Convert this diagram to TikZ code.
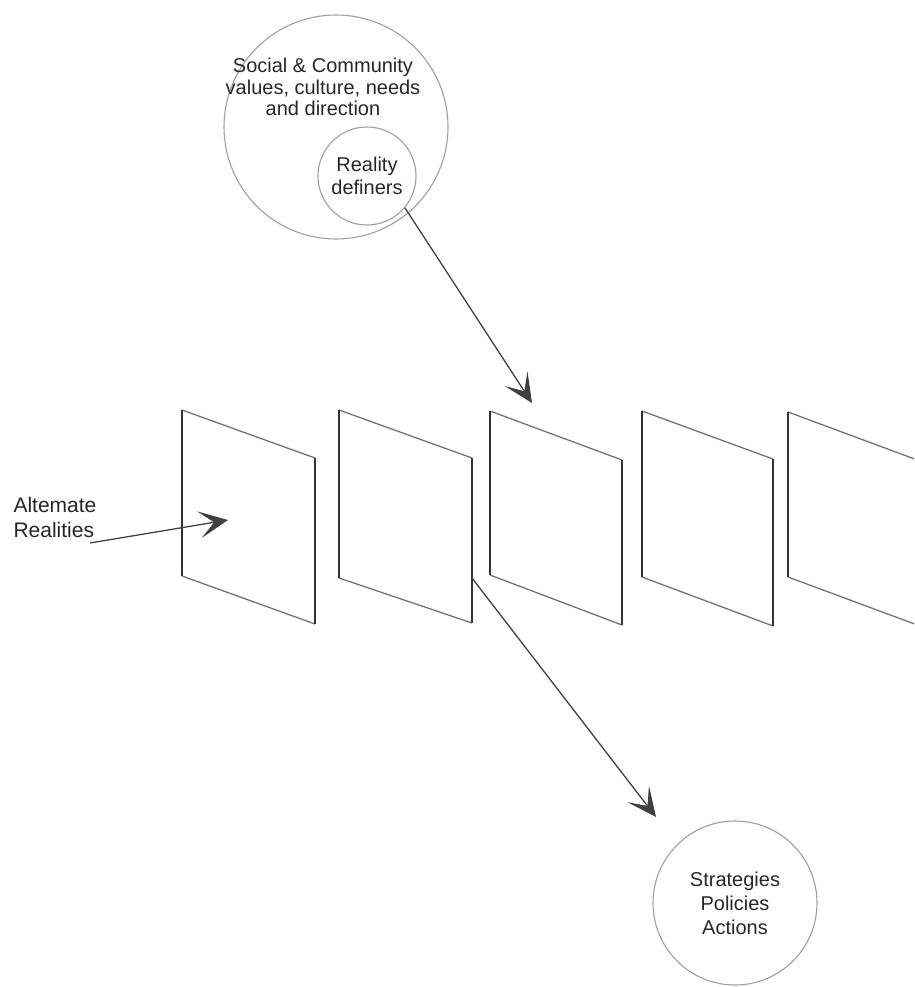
\documentclass[tikz,border=0pt]{standalone}
\usepackage{fontspec}
\setmainfont{Liberation Sans}
\usetikzlibrary{arrows.meta,calc}

\begin{document}
\begin{tikzpicture}[x=1pt,y=-1pt,
  ring/.style={circle,draw=black!38,line width=1.1pt,inner sep=0pt},
  label/.style={text=black!85,font=\fontsize{20}{23}\selectfont,align=center},
  side/.style={draw=black!80,line width=1.7pt},
  slant/.style={draw=black!55,line width=1.3pt},
  link/.style={draw=black!75,line width=1.3pt,
    -{Stealth[length=29pt,width=27pt,inset=15pt]}}]

\useasboundingbox (0,0) rectangle (914,987);
\clip (0,0) rectangle (914,987);

% community circle with the reality definers inside it
\node[ring,minimum size=224pt] (social) at (336,127) {};
\node[label,font=\fontsize{20}{21.5}\selectfont] (socialtext) at (323,87)
  {Social \& Community\\values, culture, needs\\and direction};
\node[ring,minimum size=98pt,label] (rdef) at (367,176) {Reality\\definers};

% the row of alternate realities
\foreach \n/\xl/\yl/\xr/\yr/\yrb/\ylb in {
    1/182/410/315/458/624/576,
    2/339/410/472/458/623/578,
    3/490/411/622/460/625/575,
    4/642/411/773/459/626/577,
    5/788/412/920/461/626/577}{
  \coordinate (p\n tl) at (\xl,\yl);
  \coordinate (p\n tr) at (\xr,\yr);
  \coordinate (p\n br) at (\xr,\yrb);
  \coordinate (p\n bl) at (\xl,\ylb);
  \draw[slant] (p\n tl) -- (p\n tr);
  \draw[slant] (p\n bl) -- (p\n br);
  \draw[side] (p\n tl) -- (p\n bl);
  \draw[side] (p\n tr) -- (p\n br);
}

% outcome circle
\node[ring,minimum size=164pt,label,font=\fontsize{20}{24}\selectfont] (strat) at (735,903)
  {Strategies\\Policies\\Actions};

% side label
\node[label,align=left,anchor=west,font=\fontsize{21}{25}\selectfont] (alt) at (10,517)
  {Altemate\\Realities};

% connectors
\coordinate (deftip) at (532,403);
\coordinate (alttail) at (90,543);
\coordinate (alttip) at (228,520);
\coordinate (out) at (472,578);
\coordinate (outtip) at (656,817);

\draw[link] (rdef.-40) -- (deftip);
\draw[link] (alttail) -- (alttip);
\draw[link] (out) -- (outtip);
\end{tikzpicture}
\end{document}
